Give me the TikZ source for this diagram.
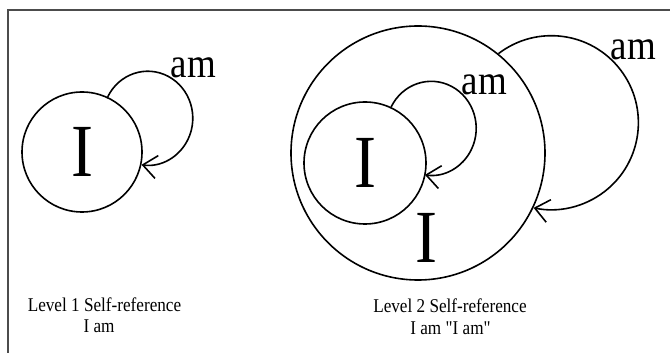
\documentclass[tikz,border=0pt]{standalone}
\usepackage{fontspec}
\setmainfont{Liberation Serif}[FakeStretch=0.88]
\newfontfamily\plainserif{Liberation Serif}[FakeStretch=0.88]
\usetikzlibrary{arrows.meta}
\begin{document}
\begin{tikzpicture}[x=1pt,y=1pt,
  ring/.style={circle, draw, line width=1.6pt, inner sep=0pt},
  selfloop/.style={line width=1.6pt, -{Straight Barb[length=14pt,width=23pt,line width=1.6pt]}},
  bigI/.style={font=\fontsize{75}{75}\selectfont, inner sep=0pt},
  amlab/.style={font=\fontsize{42}{42}\selectfont, inner sep=0pt, anchor=base west},
  caption/.style={font=\plainserif\fontsize{19.5}{21}\selectfont, inner sep=0pt, anchor=base}]
\useasboundingbox (0,0) rectangle (670,353);
\fill[white] (0,0) rectangle (670,353);
\draw[line width=1.5pt, color=black!70] (8,0) -- (8,343) -- (670,343);

% Level 1
\node[ring, minimum size=120pt, bigI] (L) at (82,201) {I};
\draw[selfloop] (L.65) arc[start angle=153, end angle=-98, x radius=45pt, y radius=47pt];
\node[amlab] (amL) at (170.6,275) {am};

% Level 2
\node[ring, minimum size=254pt] (O) at (418,200) {};
\node[ring, minimum size=122pt, bigI] (C1) at (365,190) {I};
\node[bigI, anchor=base] (OI) at (426,90) {I};
\draw[selfloop] (C1.65) arc[start angle=153, end angle=-98, x radius=45pt, y radius=47pt];
\node[amlab] (amC) at (461.6,258) {am};
\draw[selfloop] (O.51) arc[start angle=127.5, end angle=-101.8, radius=87pt];
\node[amlab] (amO) at (610.6,293) {am};

% captions
\node[caption] (c1a) at (104.5,41) {Level 1 Self-reference};
\node[caption] (c1b) at (99,20) {I am};
\node[caption] (c2a) at (450,40) {Level 2 Self-reference};
\node[caption] (c2b) at (450.5,18) {I am "I am"};
\end{tikzpicture}
\end{document}
